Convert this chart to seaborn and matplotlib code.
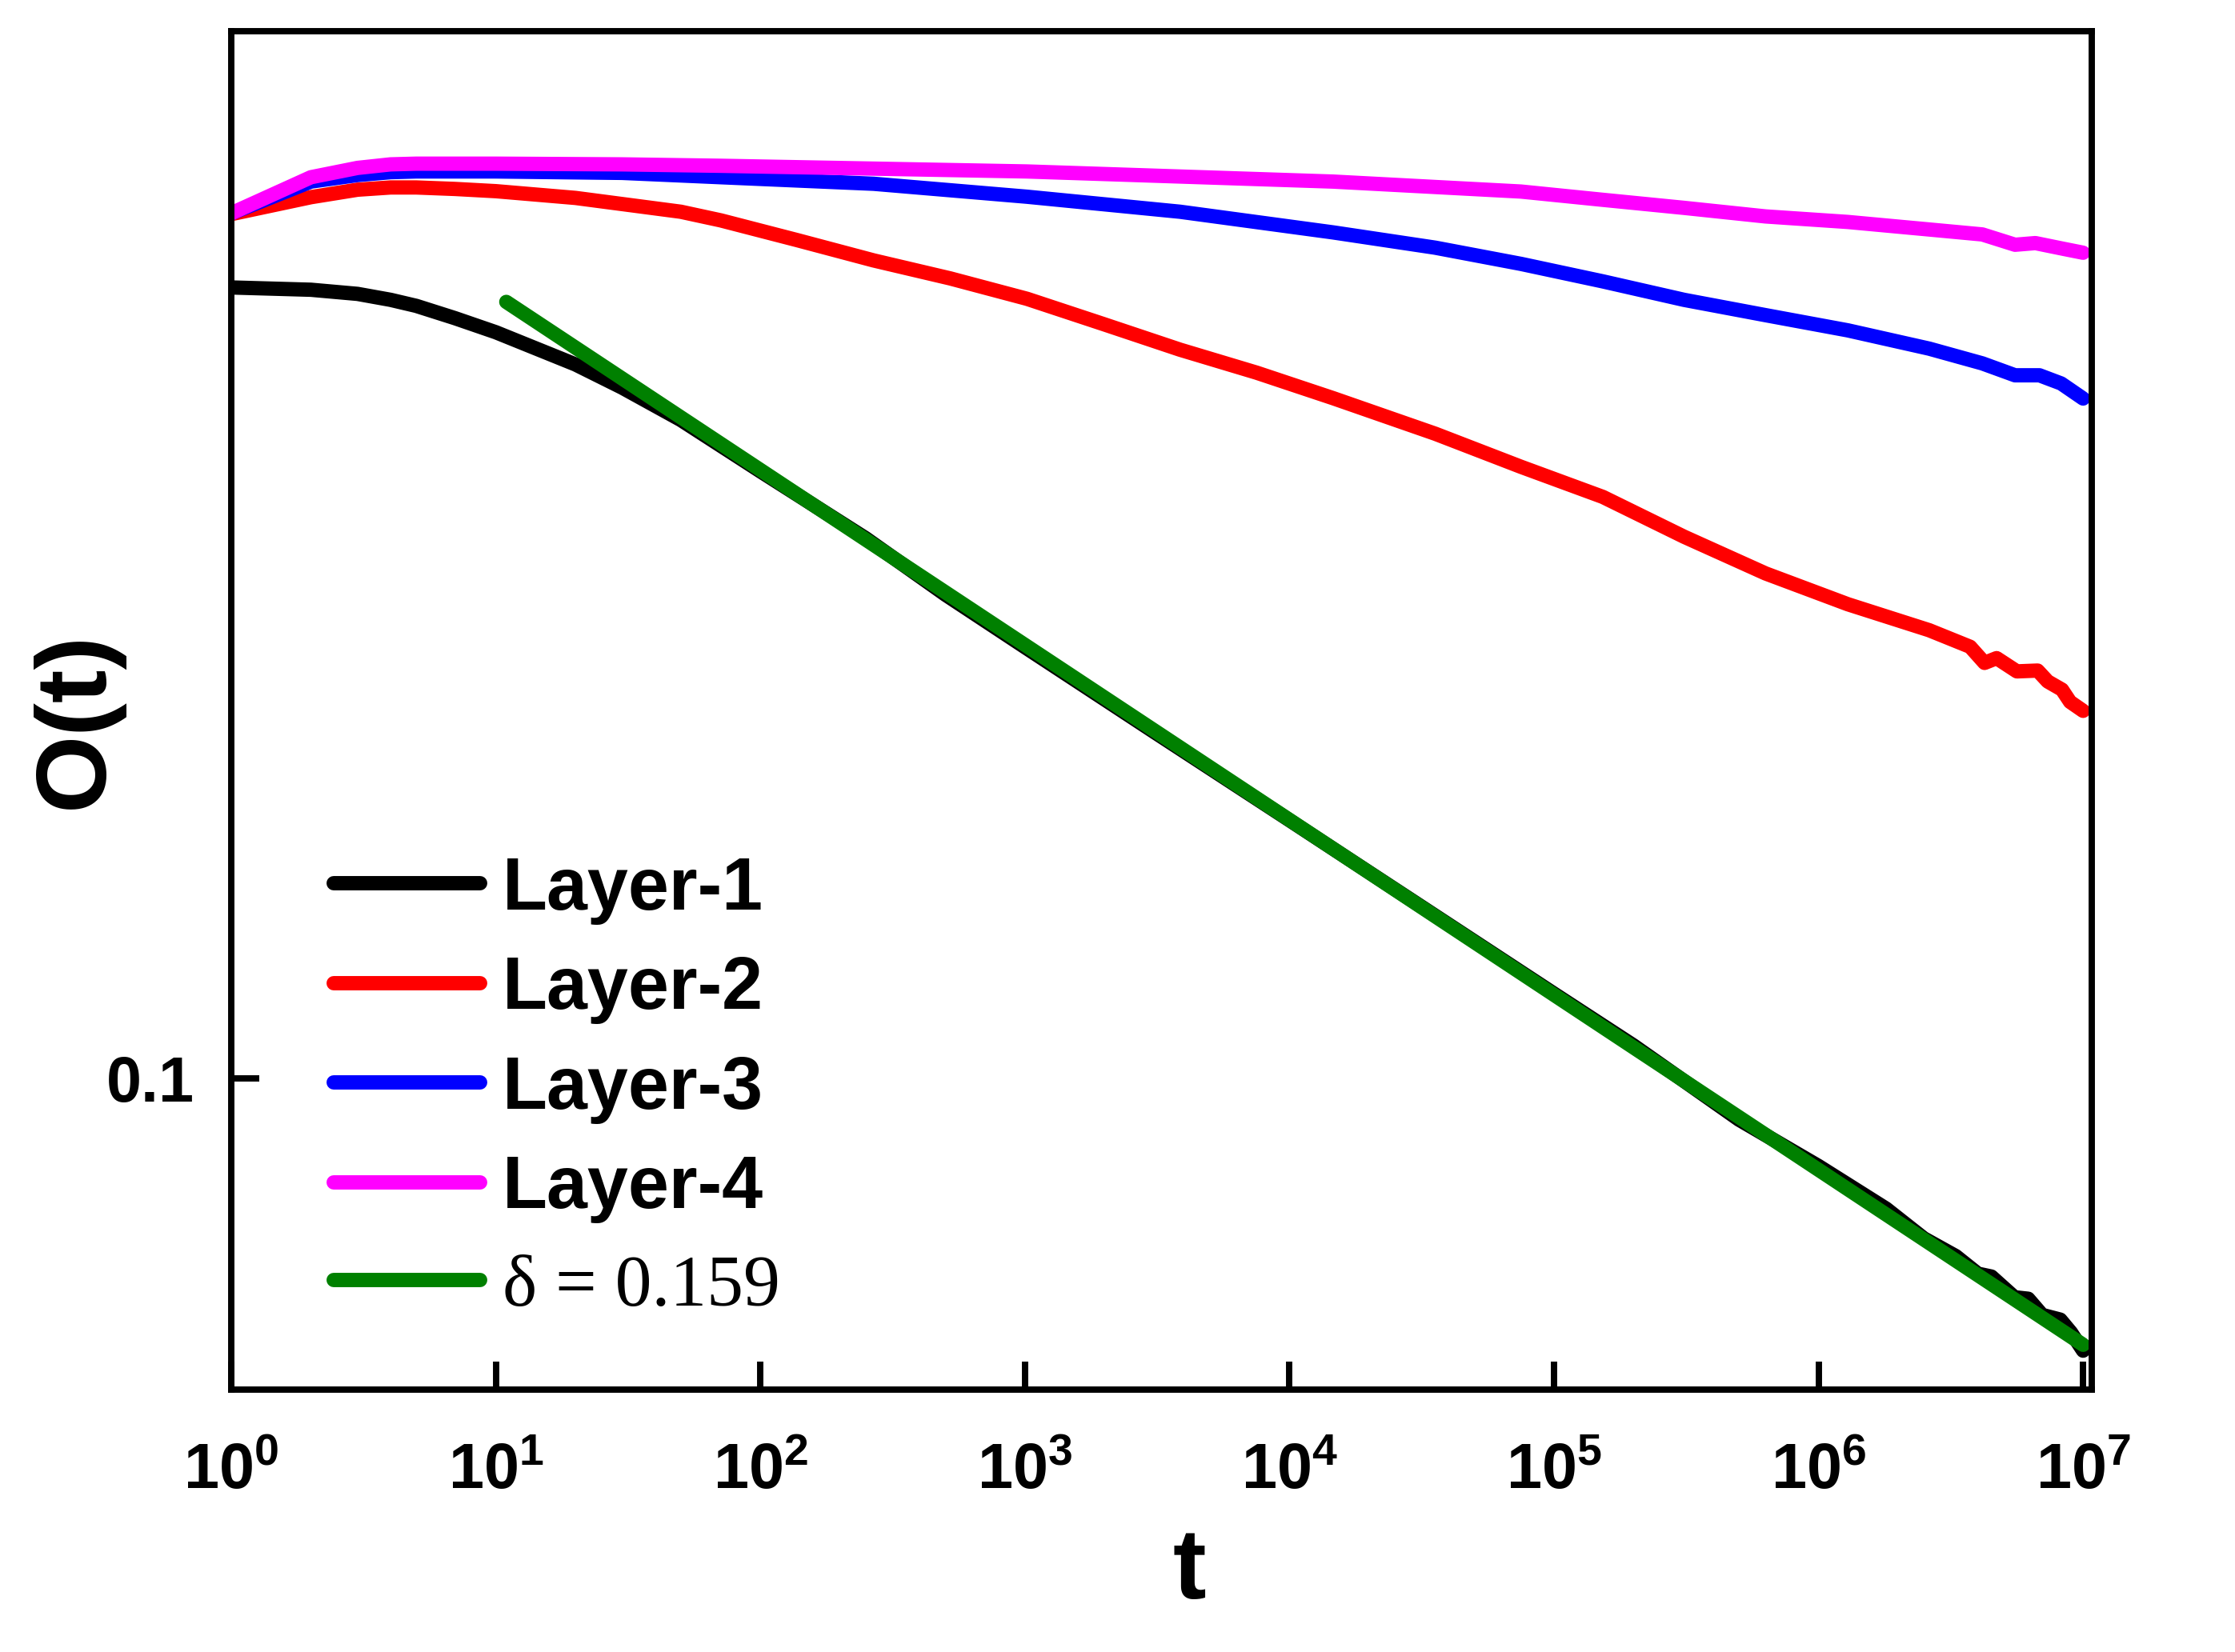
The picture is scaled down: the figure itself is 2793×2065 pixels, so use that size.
import numpy as np
import pandas as pd
import matplotlib
matplotlib.use("Agg")
import matplotlib.pyplot as plt
import matplotlib.ticker as mtick
import seaborn as sns

# Values
t_layer1 = [1, 2, 3, 4, 5, 7, 10, 20, 30, 50, 100, 250, 500, 1e3, 3e3, 1e4, 3e4,
            1e5, 2e5, 5e5, 1e6, 1.8e6, 2.5e6, 3.3e6, 4e6, 4.5e6, 5.5e6, 6.2e6,
            7e6, 8.2e6, 9e6, 1e7]
o_layer1 = [0.524, 0.5215, 0.517, 0.5106, 0.5042, 0.4914, 0.4771, 0.4460, 0.4249,
            0.3971, 0.3566, 0.310, 0.2755, 0.2468, 0.2075, 0.1718, 0.1445, 0.1195,
            0.1072, 0.0918, 0.0833, 0.0762, 0.0716, 0.0690, 0.0665, 0.0661, 0.0633,
            0.0631, 0.0610, 0.0604, 0.0588, 0.0566]

t_layer2 = [1, 2, 3, 4, 5, 7, 10, 20, 50, 70.8, 138, 268, 522, 1018, 1982, 3857,
            7510, 14620, 35560, 7.5e4, 1.53e5, 3.1e5, 6.3e5, 1.29e6, 2.62e6, 3.74e6,
            4.24e6, 4.71e6, 5.62e6, 6.73e6, 7.35e6, 8.32e6, 8.93e6, 1e7]
o_layer2 = [0.611, 0.633, 0.643, 0.646, 0.646, 0.644, 0.641, 0.632, 0.614, 0.603,
            0.5785, 0.5545, 0.534, 0.5117, 0.4853, 0.460, 0.4384, 0.4156, 0.3858,
            0.360, 0.338, 0.311, 0.288, 0.270, 0.2557, 0.247, 0.2388, 0.2412,
            0.2346, 0.235, 0.2297, 0.2258, 0.2201, 0.2160]

t_layer3 = [1, 2, 3, 4, 5, 10, 30, 70.8, 268, 1018, 3857, 14620, 35560, 7.5e4,
            1.53e5, 3.1e5, 6.3e5, 1.29e6, 2.62e6, 4.16e6, 5.53e6, 6.84e6, 8.26e6, 1e7]
o_layer3 = [0.612, 0.654, 0.663, 0.667, 0.668, 0.668, 0.666, 0.660, 0.651, 0.6336,
            0.614, 0.588, 0.5695, 0.5505, 0.5307, 0.5106, 0.4945, 0.479, 0.461,
            0.447, 0.436, 0.436, 0.4286, 0.4153]

t_layer4 = [1, 2, 3, 4, 5, 10, 30, 70.8, 1018, 14620, 7.5e4, 1.53e5, 3.1e5, 6.3e5,
            1.29e6, 2.62e6, 4.16e6, 5.53e6, 6.6e6, 8.47e6, 1e7]
o_layer4 = [0.612, 0.660, 0.673, 0.678, 0.679, 0.679, 0.678, 0.676, 0.668, 0.654,
            0.6405, 0.6295, 0.619, 0.608, 0.601, 0.5916, 0.5855, 0.573, 0.575,
            0.568, 0.5635]

# power-law fit, end points only
t_fit = [10.95, 1e7]
o_fit = [0.5084, 0.0573]

labels = ["Layer-1", "Layer-2", "Layer-3", "Layer-4", "\u03b4 = 0.159"]
colors = ["#000000", "#FF0000", "#0000FF", "#FF00FF", "#008000"]

frames = []
for lab, tt, oo in zip(labels,
                       [t_layer1, t_layer2, t_layer3, t_layer4, t_fit],
                       [o_layer1, o_layer2, o_layer3, o_layer4, o_fit]):
    frames.append(pd.DataFrame({"t": tt, "O": oo, "series": lab}))
df = pd.concat(frames, ignore_index=True)

sns.set_theme(style="ticks")
plt.rcParams.update({
    "font.family": ["Liberation Sans", "DejaVu Sans"],
    "font.weight": "bold",
    "text.color": "black",
    "axes.labelcolor": "black",
    "xtick.color": "black",
    "ytick.color": "black",
    "axes.edgecolor": "black",
    "mathtext.fontset": "custom",
    "mathtext.rm": "Liberation Sans:bold",
    "mathtext.bf": "Liberation Sans:bold",
    "mathtext.it": "Liberation Sans:bold",
    "lines.solid_capstyle": "round",
    "lines.solid_joinstyle": "round",
    "axes.linewidth": 1.9,
})

fig = plt.figure(figsize=(2793 / 300, 2065 / 300), dpi=300)
ax = fig.add_axes([0.1035, 0.159, 0.936 - 0.1035, 0.981 - 0.159])

sns.lineplot(data=df, x="t", y="O", hue="series", hue_order=labels,
             palette=dict(zip(labels, colors)), estimator=None, sort=False,
             linewidth=4.3, legend=False, ax=ax)

ax.set_xscale("log")
ax.set_yscale("log")
ax.set_xlim(1, 1.08e7)
ax.set_ylim(0.0522, 0.8956)

ax.xaxis.set_major_locator(mtick.FixedLocator([10.0 ** k for k in range(8)]))
ax.xaxis.set_major_formatter(mtick.FuncFormatter(
    lambda v, _: r"$\mathbf{10^{%d}}$" % int(round(np.log10(v)))))
ax.xaxis.set_minor_locator(mtick.NullLocator())
ax.yaxis.set_major_locator(mtick.FixedLocator([0.1]))
ax.yaxis.set_major_formatter(mtick.FixedFormatter(["0.1"]))
ax.yaxis.set_minor_locator(mtick.NullLocator())

ax.tick_params(axis="both", which="major", direction="in", length=8.4,
               width=1.9, labelsize=19, top=False, right=False)
ax.tick_params(axis="x", pad=16)
ax.tick_params(axis="y", pad=11)
for lab in ax.get_xticklabels() + ax.get_yticklabels():
    lab.set_fontweight("bold")

for side in ["top", "right", "bottom", "left"]:
    ax.spines[side].set_visible(True)
    ax.spines[side].set_linewidth(1.9)
    ax.spines[side].set_color("black")

ax.set_xlabel("t", fontsize=30, fontweight="bold")
ax.set_ylabel("O(t)", fontsize=30, fontweight="bold")
ax.xaxis.set_label_coords(0.515, -0.101)
ax.yaxis.set_label_coords(-0.058, 0.493)

leg = ax.legend(ax.lines, labels, loc="upper left", bbox_to_anchor=(0.055, 0.393),
                frameon=False, fontsize=22, handlelength=2.0, handletextpad=0.3,
                labelspacing=0.42, borderpad=0, borderaxespad=0)
for txt in leg.get_texts():
    txt.set_fontweight("bold")
    txt.set_color("black")
last = leg.get_texts()[-1]
last.set_fontfamily("Liberation Serif")
last.set_fontweight("normal")

fig.savefig("out.png", dpi=300)
